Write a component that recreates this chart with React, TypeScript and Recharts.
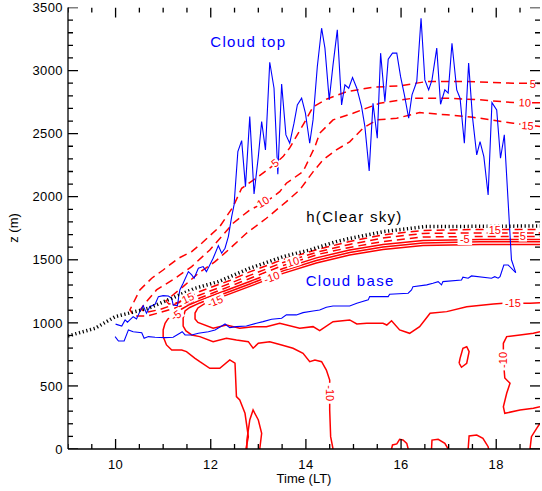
import React from 'react';
import { ComposedChart, Line, Scatter, XAxis, YAxis } from 'recharts';

type Pt = [number, number];

const X_TICKS = [9, 9.5, 10, 10.5, 11, 11.5, 12, 12.5, 13, 13.5, 14, 14.5, 15, 15.5, 16, 16.5, 17, 17.5, 18, 18.5];
const X_MAJOR = [10, 12, 14, 16, 18];
const Y_TICKS = [0, 100, 200, 300, 400, 500, 600, 700, 800, 900, 1000, 1100, 1200, 1300, 1400, 1500, 1600, 1700, 1800, 1900, 2000, 2100, 2200, 2300, 2400, 2500, 2600, 2700, 2800, 2900, 3000, 3100, 3200, 3300, 3400, 3500];
const Y_MAJOR = [0, 500, 1000, 1500, 2000, 2500, 3000, 3500];
const X_DOMAIN: [number, number] = [9, 18.92];
const Y_DOMAIN: [number, number] = [0, 3500];

// Cloud top (blue)
const cloudTop: Pt[] = [
  [10.0, 990], [10.13, 975], [10.2, 1023], [10.25, 1005], [10.3, 1023], [10.37, 1049], [10.44, 1031], [10.51, 1089],
  [10.58, 1136], [10.65, 1076], [10.72, 1128], [10.83, 1147], [10.9, 1208], [11.0, 1216], [11.11, 1213], [11.18, 1195],
  [11.21, 1142], [11.3, 1136], [11.35, 1261], [11.42, 1314], [11.53, 1406], [11.6, 1380], [11.65, 1354], [11.74, 1433],
  [11.84, 1446], [11.91, 1406], [12.05, 1512], [12.16, 1612], [12.23, 1552], [12.3, 1592], [12.37, 1684], [12.44, 1842],
  [12.49, 1935], [12.57, 2358], [12.65, 2445], [12.73, 2080], [12.82, 2635], [12.91, 2022], [13.0, 2318], [13.07, 2596],
  [13.15, 2371], [13.24, 3066], [13.33, 2860], [13.41, 2178], [13.49, 2894], [13.58, 2490], [13.66, 2424], [13.75, 2583],
  [13.82, 2728], [13.91, 2781], [13.99, 2662], [14.08, 2424], [14.15, 2609], [14.24, 3032], [14.33, 3336], [14.4, 3178],
  [14.49, 2768], [14.57, 3045], [14.66, 3323], [14.75, 2728], [14.82, 2887], [14.9, 2860], [14.98, 2944], [15.07, 2860],
  [15.17, 2714], [15.24, 2556], [15.33, 2205], [15.41, 2741], [15.5, 2464], [15.57, 3138], [15.66, 2754], [15.73, 3090],
  [15.82, 3138], [15.91, 3138], [15.99, 2952], [16.07, 2807], [16.16, 2622], [16.23, 2807], [16.33, 2913], [16.42, 3415],
  [16.5, 2926], [16.58, 2847], [16.65, 2926], [16.75, 3178], [16.83, 2733], [16.92, 2847], [16.99, 2821], [17.07, 3217],
  [17.17, 2847], [17.24, 2781], [17.33, 2424], [17.42, 3059], [17.5, 2635], [17.59, 2331], [17.66, 2437], [17.74, 2318],
  [17.83, 2014], [17.91, 2746], [18.01, 2688], [18.09, 2305], [18.17, 2490], [18.32, 1500], [18.41, 1398],
];

// Cloud base (blue)
const cloudBase: Pt[] = [
  [9.99, 891], [10.06, 856], [10.18, 856], [10.27, 944], [10.37, 930], [10.55, 922], [10.6, 878], [10.69, 891],
  [10.83, 886], [11.04, 883], [11.21, 886], [11.35, 917], [11.4, 930], [11.46, 904], [11.6, 904], [11.74, 917],
  [11.95, 930], [12.09, 944], [12.23, 975], [12.3, 991], [12.4, 962], [12.54, 970], [12.75, 975], [12.96, 997],
  [13.1, 1010], [13.28, 1029], [13.49, 1036], [13.59, 1063], [13.8, 1063], [13.94, 1081], [14.15, 1094], [14.29, 1102],
  [14.43, 1124], [14.57, 1134], [14.92, 1134], [15.07, 1155], [15.31, 1182], [15.34, 1208], [15.73, 1208], [15.76, 1227],
  [16.15, 1235], [16.22, 1261], [16.25, 1287], [16.54, 1301], [16.67, 1314], [16.78, 1327], [16.85, 1301], [16.88, 1327],
  [17.27, 1340], [17.3, 1362], [17.41, 1354], [17.48, 1372], [17.9, 1354], [17.97, 1366], [18.04, 1354], [18.08, 1366],
  [18.16, 1459], [18.25, 1459], [18.41, 1398],
];

// h(Clear sky) (black dotted)
const hClear: Pt[] = [
  [9.0, 896], [9.57, 957], [9.99, 1049], [10.69, 1116], [11.18, 1195], [11.67, 1274], [12.16, 1327], [12.82, 1433],
  [13.52, 1525], [14.08, 1578], [14.64, 1644], [14.85, 1663], [15.62, 1723], [16.5, 1763], [18.92, 1768],
];

// Dashed contours (5, 10, 15)
const dash5: Pt[] = [
  [18.92, 2898], [18.36, 2900], [17.38, 2913], [16.54, 2913], [15.97, 2879], [15.41, 2868], [14.86, 2833], [14.43, 2773],
  [14.15, 2712], [13.94, 2569], [13.66, 2387], [13.52, 2318], [13.28, 2239], [13.0, 2159], [12.65, 2067], [12.47, 1921],
  [12.19, 1763], [11.81, 1631], [11.6, 1565], [11.32, 1512], [11.0, 1419], [10.76, 1354], [10.51, 1261], [10.37, 1155],
  [10.3, 1102], [10.39, 1055], [10.68, 1055], [10.97, 1086], [11.25, 1118], [11.56, 1158], [11.77, 1197], [12.4, 1289],
  [12.82, 1352], [13.52, 1455], [14.29, 1546], [14.92, 1598], [15.62, 1645], [16.46, 1681], [17.66, 1685], [18.92, 1685],
];
const dash10: Pt[] = [
  [18.92, 2744], [18.36, 2746], [17.66, 2768], [16.96, 2781], [16.25, 2781], [15.55, 2741], [14.99, 2662], [14.57, 2609],
  [14.29, 2503], [14.19, 2397], [13.94, 2199], [13.59, 2107], [13.45, 2040], [13.17, 1961], [12.82, 1895], [12.47, 1790],
  [12.24, 1689], [11.98, 1578], [11.6, 1446], [11.25, 1354], [10.86, 1261], [10.62, 1155], [10.53, 1110], [10.64, 1082],
  [10.93, 1106], [11.18, 1138], [11.46, 1178], [11.77, 1221], [12.4, 1312], [12.82, 1376], [13.52, 1479], [14.29, 1566],
  [14.92, 1622], [15.62, 1673], [16.46, 1709], [17.66, 1713], [18.92, 1713],
];
const dash15: Pt[] = [
  [18.92, 2557], [18.36, 2583], [17.51, 2630], [16.96, 2649], [16.39, 2667], [15.91, 2622], [15.49, 2609], [15.2, 2543],
  [14.92, 2435], [14.64, 2371], [14.36, 2292], [14.15, 2197], [13.87, 2054], [13.59, 1961], [13.17, 1829], [12.75, 1710],
  [12.37, 1578], [12.09, 1485], [11.74, 1393], [11.42, 1287], [11.18, 1213], [11.06, 1174], [11.12, 1150], [11.31, 1162],
  [11.48, 1193], [11.77, 1249], [12.4, 1336], [12.82, 1404], [13.52, 1503], [14.29, 1586], [14.92, 1645], [15.62, 1697],
  [16.46, 1733], [17.66, 1741], [18.92, 1741],
];

// Solid contours (-5, -10, -15)
const solidM5a: Pt[] = [
  [18.92, 1661], [17.66, 1661], [16.46, 1653], [15.62, 1622], [14.92, 1578], [14.22, 1515], [13.52, 1431], [12.82, 1328],
  [12.12, 1229], [11.77, 1178], [11.56, 1146], [11.39, 1110], [11.25, 1071], [11.1, 1031], [11.04, 997], [11.0, 944],
  [11.0, 891], [11.07, 825], [11.18, 785], [11.39, 785], [11.49, 772], [11.67, 719], [11.77, 692], [11.98, 640],
  [12.19, 640], [12.4, 706], [12.51, 680], [12.54, 415], [12.61, 389], [12.72, 283], [12.79, 98], [12.74, 0],
];
const solidM5b: Pt[] = [[12.76, 0], [12.76, 71], [12.82, 230], [12.89, 309], [13.0, 230], [13.07, 124], [13.03, 0]];
const solidM10a: Pt[] = [
  [18.92, 1642], [17.66, 1642], [16.46, 1634], [15.62, 1602], [14.92, 1558], [14.22, 1495], [13.52, 1412], [12.82, 1308],
  [12.12, 1209], [11.77, 1158], [11.56, 1122], [11.46, 1094], [11.42, 1039], [11.42, 975], [11.48, 936], [11.6, 904],
  [11.77, 891], [12.05, 851], [12.33, 878], [12.54, 864], [12.79, 851], [12.89, 799], [13.0, 838], [13.24, 851],
  [13.49, 825], [13.73, 799], [13.94, 759], [14.08, 692], [14.19, 706], [14.33, 692], [14.43, 626], [14.5, 547],
  [14.5, 309], [14.52, 98], [14.57, 0],
];
const solidM15: Pt[] = [
  [18.92, 1622], [17.66, 1622], [16.46, 1614], [15.62, 1582], [14.92, 1538], [14.22, 1475], [13.52, 1392], [12.82, 1289],
  [12.12, 1190], [11.88, 1154], [11.73, 1118], [11.67, 1078], [11.67, 1031], [11.73, 1003], [12.05, 957], [12.33, 983],
  [12.61, 957], [12.89, 970], [13.17, 970], [13.45, 997], [13.87, 957], [14.15, 970], [14.29, 938], [14.57, 1009],
  [14.92, 1023], [15.07, 991], [15.28, 997], [15.62, 997], [15.7, 983], [15.8, 1017], [15.97, 944], [16.18, 917],
  [16.39, 970], [16.61, 1076], [16.96, 1089], [17.38, 1128], [17.94, 1150], [18.15, 1155], [18.71, 1155], [18.92, 1160],
];
const solidM10b: Pt[] = [
  [18.92, 930], [18.78, 917], [18.5, 904], [18.22, 891], [18.15, 838], [18.15, 706], [18.18, 563], [18.29, 521],
  [18.22, 442], [18.15, 335], [18.18, 283], [18.5, 309], [18.78, 323], [18.92, 335],
];
const solidLoop: Pt[] = [
  [17.22, 680], [17.24, 719], [17.3, 799], [17.38, 811], [17.43, 772], [17.38, 680], [17.27, 648], [17.22, 680],
];
const solidCornerBR: Pt[] = [[18.71, 0], [18.74, 98], [18.85, 164], [18.92, 204]];
const solidArc1: Pt[] = [[15.8, 0], [15.82, 32], [15.91, 40], [15.97, 77], [16.04, 71], [16.12, 45], [16.15, 0]];
const solidArc2: Pt[] = [[16.64, 0], [16.65, 71], [16.78, 77], [16.92, 45], [16.99, 0]];
const solidArc3: Pt[] = [[17.41, 0], [17.43, 103], [17.59, 111], [17.72, 85], [17.83, 18], [17.84, 0]];

// Contour labels
const contourLabels = [
  { t: 13.35, z: 2268, text: '5', angle: -38 },
  { t: 13.1, z: 1959, text: '10', angle: -31 },
  { t: 18.77, z: 2894, text: '5', angle: 0 },
  { t: 18.6, z: 2746, text: '10', angle: 2 },
  { t: 18.66, z: 2564, text: '15', angle: 4 },
  { t: 11.52, z: 1197, text: '15', angle: -25 },
  { t: 13.73, z: 1485, text: '10', angle: -17 },
  { t: 17.97, z: 1737, text: '15', angle: 0 },
  { t: 18.56, z: 1688, text: '5', angle: 0 },
  { t: 11.27, z: 1060, text: '-5', angle: -35 },
  { t: 12.09, z: 1172, text: '-15', angle: -22 },
  { t: 13.28, z: 1362, text: '-10', angle: -20 },
  { t: 17.34, z: 1661, text: '-5', angle: 0 },
  { t: 18.35, z: 1156, text: '-15', angle: 0 },
  { t: 14.5, z: 442, text: '-10', angle: 90 },
  { t: 18.15, z: 706, text: '-10', angle: -90 },
];

// Text annotations
const annotations = [
  { t: 12.79, z: 3227, text: 'Cloud top' },
  { t: 15.02, z: 1840, text: 'h(Clear sky)' },
  { t: 14.93, z: 1332, text: 'Cloud base' },
];
const annotationColor: Record<string, string> = { 'Cloud top': '#0000ff', 'h(Clear sky)': '#000000', 'Cloud base': '#0000ff' };

const toPts = (a: Pt[]) => a.map(([t, z]) => ({ t, z }));

// tick-mark anchor points (built from the tick arrays, drawn through the chart scales)
const bottomMarks = X_TICKS.map((t) => ({ t, z: Y_DOMAIN[0], side: 'b' }));
const topMarks = X_TICKS.map((t) => ({ t, z: Y_DOMAIN[1], side: 't' }));
const leftMarks = Y_TICKS.map((z) => ({ t: X_DOMAIN[0], z, side: 'l' }));
const rightMarks = Y_TICKS.map((z) => ({ t: X_DOMAIN[1], z, side: 'r' }));
const tickMarks = [...bottomMarks, ...topMarks, ...leftMarks, ...rightMarks];

const FONT = '"Liberation Sans", Arial, Helvetica, sans-serif';
const RED = '#ff0000';
const BLUE = '#0000ff';

const TickMark = (props: any) => {
  const { cx, cy, payload } = props;
  if (cx == null || cy == null) return null;
  const s = payload.side;
  const major = s === 'b' || s === 't' ? X_MAJOR.includes(payload.t) : Y_MAJOR.includes(payload.z);
  const len = major ? 10 : 5;
  let x2 = cx;
  let y2 = cy;
  if (s === 'b') y2 = cy - len;
  if (s === 't') y2 = cy + len;
  if (s === 'l') x2 = cx + len;
  if (s === 'r') x2 = cx - len;
  return <line x1={cx} y1={cy} x2={x2} y2={y2} stroke="#000" strokeWidth={1.3} />;
};

const BottomTick = (props: any) => {
  const { x, y, payload } = props;
  const v = payload.value;
  if (!X_MAJOR.includes(v)) return <g />;
  return (
    <text x={x} y={y + 19.5} textAnchor="middle" fontSize={13} fontFamily={FONT} fill="#000" letterSpacing={0.4}>
      {v}
    </text>
  );
};
const LeftTick = (props: any) => {
  const { x, y, payload } = props;
  const v = payload.value;
  if (!Y_MAJOR.includes(v)) return <g />;
  return (
    <text x={x - 5} y={y} dy="0.36em" textAnchor="end" fontSize={13} fontFamily={FONT} fill="#000" letterSpacing={0.4}>
      {v}
    </text>
  );
};
const NoTick = () => <g />;

const ContourLabel = (props: any) => {
  const { cx, cy, payload } = props;
  if (cx == null || cy == null) return null;
  const w = payload.text.length * 6.3 + 2;
  return (
    <g transform={`translate(${cx},${cy}) rotate(${payload.angle})`}>
      <rect x={-w / 2} y={-5.5} width={w} height={11} fill="#ffffff" />
      <text x={0} y={0} dy="0.36em" textAnchor="middle" fontSize={11} fontFamily={FONT} fill={RED}>
        {payload.text}
      </text>
    </g>
  );
};

const Annotation = (props: any) => {
  const { cx, cy, payload } = props;
  if (cx == null || cy == null) return null;
  return (
    <text x={cx} y={cy} dy="0.36em" textAnchor="middle" fontSize={15} fontFamily={FONT} letterSpacing={1.3}
      fill={annotationColor[payload.text]}>
      {payload.text}
    </text>
  );
};

const redSolid = [solidM5a, solidM5b, solidM10a, solidM15, solidM10b, solidLoop, solidCornerBR, solidArc1, solidArc2, solidArc3];
const redDashed = [dash5, dash10, dash15];

export default function App() {
  return (
    <div style={{ width: 542, height: 491, background: '#fff' }}>
      <style>{'body{margin:0;background:#fff}'}</style>
      <ComposedChart width={542} height={491} margin={{ top: 7.5, right: 2, bottom: 0, left: 0 }}>
        <XAxis
          xAxisId="b"
          dataKey="t"
          type="number"
          domain={X_DOMAIN}
          allowDataOverflow
          ticks={X_TICKS}
          interval={0}
          height={42}
          tickSize={0}
          tickMargin={0}
          tickLine={false}
          axisLine={{ stroke: '#000', strokeWidth: 1.3 }}
          tick={<BottomTick />}
          label={() => (
            <text x={304} y={483} textAnchor="middle" fontSize={13} fontFamily={FONT} fill="#000">
              Time (LT)
            </text>
          )}
        />
        <XAxis
          xAxisId="top"
          dataKey="t"
          type="number"
          orientation="top"
          domain={X_DOMAIN}
          allowDataOverflow
          ticks={X_TICKS}
          interval={0}
          height={0}
          tickSize={0}
          tickLine={false}
          axisLine={{ stroke: '#000', strokeWidth: 1.3 }}
          tick={<NoTick />}
        />
        <YAxis
          yAxisId="l"
          dataKey="z"
          type="number"
          domain={Y_DOMAIN}
          allowDataOverflow
          ticks={Y_TICKS}
          interval={0}
          width={68}
          tickSize={0}
          tickMargin={0}
          tickLine={false}
          axisLine={{ stroke: '#000', strokeWidth: 1.3 }}
          tick={<LeftTick />}
          label={() => (
            <text x={13} y={228} transform="rotate(-90 13 228)" dy="0.36em" textAnchor="middle" fontSize={13}
              fontFamily={FONT} fill="#000">
              z (m)
            </text>
          )}
        />
        <YAxis
          yAxisId="r"
          dataKey="z"
          type="number"
          orientation="right"
          domain={Y_DOMAIN}
          allowDataOverflow
          ticks={Y_TICKS}
          interval={0}
          width={0}
          tickSize={0}
          tickLine={false}
          axisLine={{ stroke: '#000', strokeWidth: 1.3 }}
          tick={<NoTick />}
        />
        {redSolid.map((d, i) => (
          <Line key={`s${i}`} xAxisId="b" yAxisId="l" data={toPts(d)} dataKey="z" type="linear" stroke={RED}
            strokeWidth={1.5} dot={false} activeDot={false} isAnimationActive={false} />
        ))}
        {redDashed.map((d, i) => (
          <Line key={`d${i}`} xAxisId="b" yAxisId="l" data={toPts(d)} dataKey="z" type="linear" stroke={RED}
            strokeWidth={1.5} strokeDasharray="8 5" dot={false} activeDot={false} isAnimationActive={false} />
        ))}
        <Scatter xAxisId="b" yAxisId="l" data={contourLabels} dataKey="z" shape={<ContourLabel />} isAnimationActive={false} />
        <Line xAxisId="b" yAxisId="l" data={toPts(cloudBase)} dataKey="z" type="linear" stroke={BLUE} strokeWidth={1.1}
          dot={false} activeDot={false} isAnimationActive={false} />
        <Line xAxisId="b" yAxisId="l" data={toPts(cloudTop)} dataKey="z" type="linear" stroke={BLUE} strokeWidth={1.1}
          dot={false} activeDot={false} isAnimationActive={false} />
        <Line xAxisId="b" yAxisId="l" data={toPts(hClear)} dataKey="z" type="linear" stroke="#000" strokeWidth={3.5}
          strokeDasharray="1.2 2.6" dot={false} activeDot={false} isAnimationActive={false} />
        <Scatter xAxisId="b" yAxisId="l" data={annotations} dataKey="z" shape={<Annotation />} isAnimationActive={false} />
        <Scatter xAxisId="b" yAxisId="l" data={tickMarks} dataKey="z" shape={<TickMark />} isAnimationActive={false} />
      </ComposedChart>
    </div>
  );
}
